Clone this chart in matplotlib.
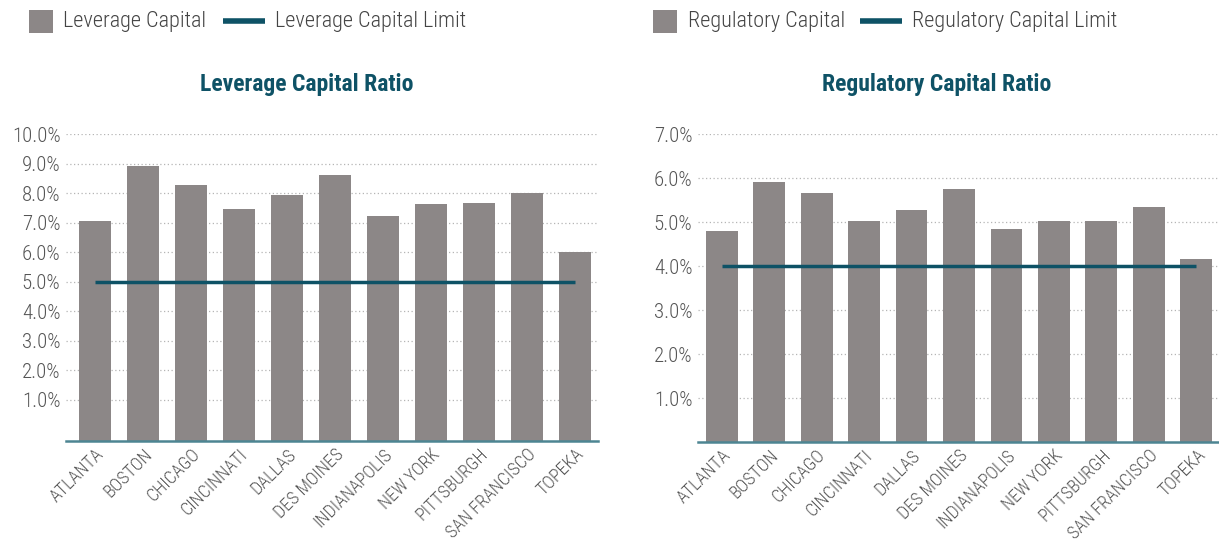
import numpy as np
import matplotlib.pyplot as plt
from matplotlib.patches import Rectangle
from matplotlib.lines import Line2D

# data
banks = ["ATLANTA", "BOSTON", "CHICAGO", "CINCINNATI", "DALLAS", "DES MOINES",
         "INDIANAPOLIS", "NEW YORK", "PITTSBURGH", "SAN FRANCISCO", "TOPEKA"]
leverage = [7.05, 8.92, 8.28, 7.47, 7.94, 8.61, 7.23, 7.64, 7.67, 8.00, 6.01]
leverage_limit = 5.0
regulatory = [4.80, 5.90, 5.65, 5.03, 5.28, 5.74, 4.85, 5.03, 5.03, 5.33, 4.17]
regulatory_limit = 4.0

bar_color = "#8c8787"
line_color = "#0e5266"
text_color = "#555555"

plt.rcParams['font.family'] = ['Roboto Condensed', 'DejaVu Sans']

W, H = 1219, 548
fig = plt.figure(figsize=(W / 100, H / 100), dpi=100)


def draw(ax, vals, limit, ymin, ymax, xlim):
    x = np.arange(len(banks))
    ax.bar(x, np.array(vals) - ymin, bottom=ymin, width=0.67, color=bar_color, zorder=2)
    ax.plot([x[0], x[-1]], [limit, limit], color=line_color, lw=2.5, zorder=3,
            solid_capstyle='butt')
    ax.set_xlim(*xlim)
    ax.set_ylim(ymin, ymax)
    ticks = np.arange(1, int(ymax) + 1)
    ax.set_yticks(ticks)
    ax.set_yticklabels([f"{t:.1f}%" for t in ticks], fontsize=15, color=text_color,
                       fontweight='light')
    ax.set_xticks(x)
    ax.set_xticklabels(banks, rotation=45, ha='right', rotation_mode='anchor',
                       fontsize=13, color=text_color, fontweight='light')
    ax.tick_params(length=0, axis='both')
    ax.tick_params(axis='y', pad=4)
    ax.tick_params(axis='x', pad=3)
    ax.grid(axis='y', linestyle=(0, (1, 2)), color='#b5b5b5', lw=0.9, zorder=0)
    for s in ['top', 'right', 'left']:
        ax.spines[s].set_visible(False)
    ax.spines['bottom'].set_color('#4d8592')
    ax.spines['bottom'].set_linewidth(1.8)
    ax.set_axisbelow(True)


ax1 = fig.add_axes([66 / W, 1 - 441 / H, 532 / W, 307 / H])
draw(ax1, leverage, leverage_limit, -0.4, 10.0, (-0.6, 10.48))

ax2 = fig.add_axes([698 / W, 1 - 442 / H, 520 / W, 308 / H])
draw(ax2, regulatory, regulatory_limit, 0, 7.0, (-0.5, 10.46))

fig.text(307 / W, 1 - 84 / H, "Leverage Capital Ratio", ha='center', va='center',
         fontsize=17, fontweight='bold', color=line_color)
fig.text(937 / W, 1 - 84 / H, "Regulatory Capital Ratio", ha='center', va='center',
         fontsize=17, fontweight='bold', color=line_color)


def legend(name, sq_x, txt1_x, line_x, txt2_x):
    fig.add_artist(Rectangle((sq_x / W, 1 - 33 / H), 24 / W, 23 / H,
                             transform=fig.transFigure, color=bar_color, lw=0))
    fig.add_artist(Line2D([line_x / W, (line_x + 42) / W], [1 - 21 / H, 1 - 21 / H],
                          transform=fig.transFigure, color=line_color, lw=4,
                          solid_capstyle='butt'))
    fig.text(txt1_x / W, 1 - 22 / H, name, ha='left', va='center', fontsize=16,
             fontweight='light', color='#444444')
    fig.text(txt2_x / W, 1 - 22 / H, name + " Limit", ha='left', va='center',
             fontsize=16, fontweight='light', color='#444444')


legend("Leverage Capital", 29, 63, 223, 275)
legend("Regulatory Capital", 653, 688, 860, 912)

fig.savefig("out.png", dpi=100)
